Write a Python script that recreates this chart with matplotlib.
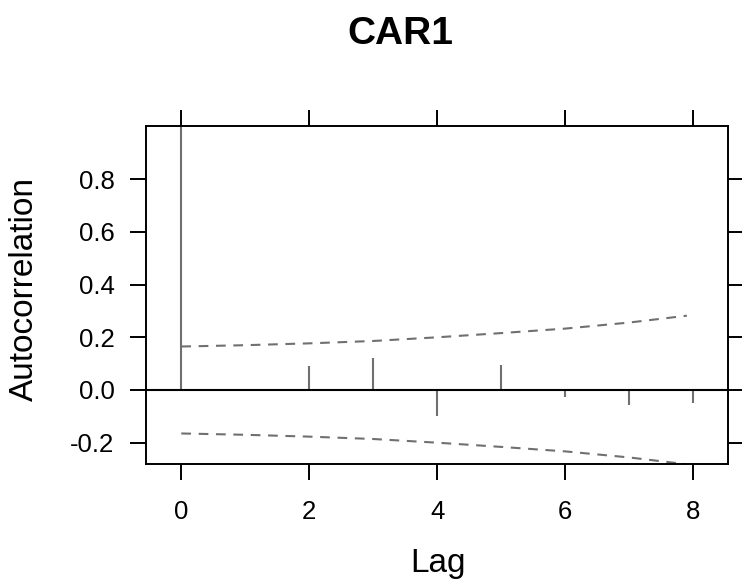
import matplotlib
matplotlib.use("Agg")
import matplotlib.pyplot as plt
import numpy as np

plt.rcParams['font.family'] = ['Liberation Sans', 'DejaVu Sans']
plt.rcParams['lines.scale_dashes'] = False

lags = [0, 1, 2, 3, 4, 5, 6, 7, 8]
acf_values = [1.0, 0.0, 0.091, 0.120, -0.099, 0.095, -0.025, -0.058, -0.050]
band_lags = [0, 1, 2, 3, 4, 5, 6, 7, 7.9]
band_values = [0.165, 0.170, 0.177, 0.186, 0.200, 0.216, 0.233, 0.256, 0.282]
x_ticks = [0, 2, 4, 6, 8]
y_ticks = [-0.2, 0.0, 0.2, 0.4, 0.6, 0.8]
y_tick_labels = ['-0.2', '0.0', '0.2', '0.4', '0.6', '0.8']

W, H = 742, 582
fig = plt.figure(figsize=(W / 100, H / 100), dpi=100)
ax = fig.add_axes([145.7 / W, 1 - 464.3 / H, (728.3 - 145.7) / W, (464.3 - 125.7) / H])

gray = '#707070'
ax.axhline(0, color='black', lw=1.5, zorder=3)
ax.vlines(lags, 0, acf_values, color=gray, lw=1.5, zorder=2)
ax.plot(band_lags, band_values, color=gray, lw=1.5, linestyle=(0, (7, 5.5)))
ax.plot(band_lags, [-v for v in band_values], color=gray, lw=1.5, linestyle=(0, (7, 5.5)))

ax.set_xlim(-0.556, 8.547)
ax.set_ylim(-0.282, 1.003)
ax.set_xticks(x_ticks)
ax.set_yticks(y_ticks)
ax.set_yticklabels(y_tick_labels)
ax.tick_params(axis='both', direction='out', length=11.5, width=1.4, labelsize=18.5,
               top=True, right=True, labeltop=False, labelright=False)
ax.tick_params(axis='x', pad=14)
ax.tick_params(axis='y', pad=11)
for s in ax.spines.values():
    s.set_linewidth(1.4)

fig.text(438 / W, 1 - 572 / H, 'Lag', ha='center', va='baseline', fontsize=24)
fig.text(24 / W, 1 - 289 / H, 'Autocorrelation', ha='center', va='center',
         rotation=90, fontsize=24)
fig.text(400 / W, 1 - 44 / H, 'CAR1', ha='center', va='baseline', fontsize=28,
         fontweight='bold')

fig.savefig('out.png', dpi=100)
